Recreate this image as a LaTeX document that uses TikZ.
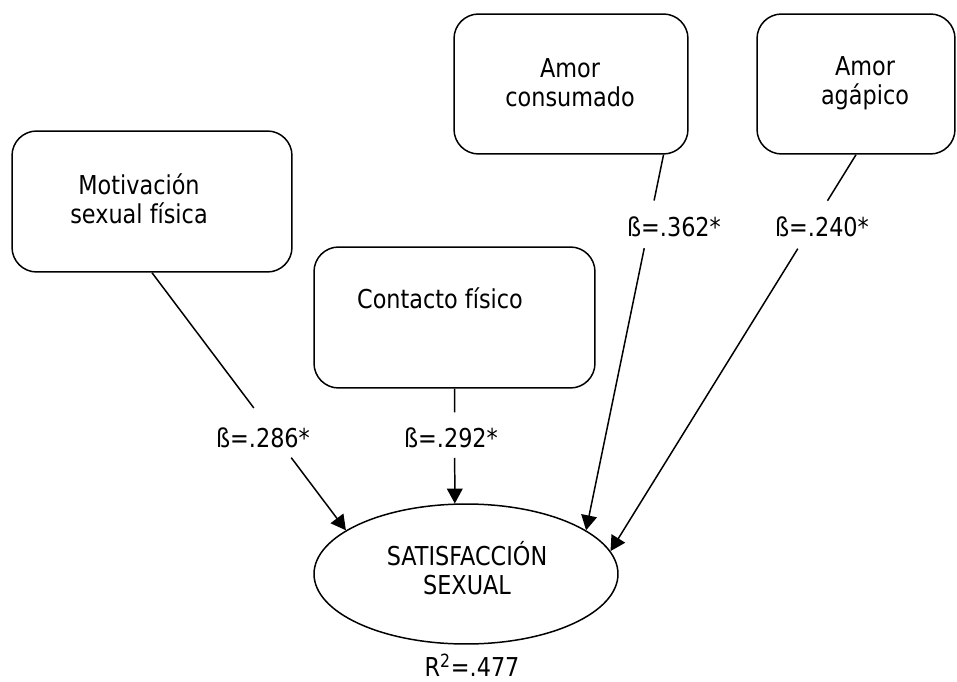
\documentclass[tikz,border=0pt]{standalone}
\usepackage{fontspec}
\setmainfont{DejaVu Sans}[FakeStretch=0.86]
\usetikzlibrary{arrows.meta,shapes.geometric,calc}
\begin{document}
\begin{tikzpicture}[x=0.02cm,y=-0.02cm,
  every node/.style={font=\fontsize{14.8pt}{16.5pt}\selectfont, inner sep=0pt, align=center},
  box/.style={draw, line width=0.85pt, rounded corners=14pt},
  target/.style={draw, ellipse, line width=0.85pt},
  link/.style={line width=0.85pt},
  arrowlink/.style={link, -{Triangle[length=8.5pt,width=9pt]}},
]
\useasboundingbox (0,0) rectangle (957,682);

% predictor boxes
\node[box, minimum width=5.6cm,  minimum height=2.82cm] (mot)  at (152,201.5) {};
\node[box, minimum width=5.62cm, minimum height=2.82cm] (con)  at (454.5,317.5) {};
\node[box, minimum width=4.68cm, minimum height=2.8cm]  (cons) at (571,84) {};
\node[box, minimum width=3.96cm, minimum height=2.8cm]  (aga)  at (856,84) {};

% outcome
\node[target, minimum width=6.08cm, minimum height=2.8cm] (sat) at (466,574) {};

% texts
\node (motT)  at (139,199) {Motivación\\sexual física};
\node (conT)  at (440,298) {Contacto físico};
\node (consT) at (570,83)  {Amor\\consumado};
\node (agaT)  at (865,83)  {Amor\\agápico};
\node (satT)  at (467,568) {SATISFACCIÓN\\SEXUAL};
\node (r2)    at (472,665) {R\textsuperscript{2}=.477};

% path start point on the bottom edge of the consumado box
\coordinate (consS) at ($(cons.south west)!0.893!(cons.south east)$);

% coefficients
\node (b1) at (263,438) {ß=.286*};
\node (b2) at (451,438) {ß=.292*};
\node (b3) at (674,227) {ß=.362*};
\node (b4) at (822,227) {ß=.240*};

% paths, interrupted where the coefficient sits
\draw[link] (mot.south) -- ($(mot.south)!0.525!(sat.160)$);
\draw[arrowlink] ($(mot.south)!0.718!(sat.160)$) -- (sat.160);

\draw[link] (con.south) -- ($(con.south)!0.207!(sat.99)$);
\draw[arrowlink] ($(con.south)!0.603!(sat.99)$) -- (sat.99);

\draw[link] (consS) -- ($(consS)!0.122!(sat.20)$);
\draw[arrowlink] ($(consS)!0.249!(sat.20)$) -- (sat.20);

\draw[link] (aga.south) -- ($(aga.south)!0.116!(sat.9)$);
\draw[arrowlink] ($(aga.south)!0.237!(sat.9)$) -- (sat.9);
\end{tikzpicture}
\end{document}
